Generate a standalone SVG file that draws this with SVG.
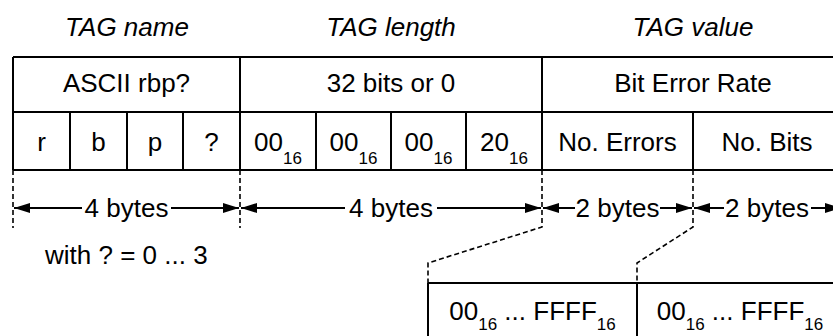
<svg xmlns="http://www.w3.org/2000/svg" width="833" height="336" viewBox="0 0 833 336">
<style>
text{font-family:"Liberation Sans",Arial,sans-serif;font-size:26px;fill:#000;text-anchor:middle}
.hd{font-style:italic}
.sub{font-size:17px}
.ln{stroke:#000;stroke-width:2;fill:none}
.dash{stroke:#000;stroke-width:1.6;fill:none;stroke-dasharray:5 3}
.arr{stroke:#000;stroke-width:2;fill:none}
</style>
<defs>
<marker id="ah" viewBox="0 0 16 10" refX="16" refY="5" markerWidth="16" markerHeight="10" markerUnits="userSpaceOnUse" orient="auto-start-reverse">
<path d="M0,0 L16,5 L0,10 Z" fill="#000"/>
</marker>
</defs>
<g id="headers">
<text class="hd" x="127" y="36">TAG name</text>
<text class="hd" x="391" y="36">TAG length</text>
<text class="hd" x="693" y="36">TAG value</text>
</g>
<g id="table">
<path class="ln" d="M13,57H833M13,112H833M13,170H833M13,57V170M240,57V170M542,57V170M70,112V170M127,112V170M183,112V170M316,112V170M391,112V170M466,112V170M693,112V170"/>
</g>
<g id="tag-name">
<text x="126.5" y="92">ASCII rbp?</text>
<text x="41.5" y="151">r</text>
<text x="98.5" y="151">b</text>
<text x="155" y="151">p</text>
<text x="211.5" y="151">?</text>
</g>
<g id="tag-length">
<text x="391" y="92">32 bits or 0</text>
<text x="278" y="151">00<tspan class="sub" dy="13">16</tspan></text>
<text x="353.5" y="151">00<tspan class="sub" dy="13">16</tspan></text>
<text x="428.5" y="151">00<tspan class="sub" dy="13">16</tspan></text>
<text x="504" y="151">20<tspan class="sub" dy="13">16</tspan></text>
</g>
<g id="tag-value">
<text x="693" y="92">Bit Error Rate</text>
<text x="617.5" y="151">No. Errors</text>
<text x="767" y="151">No. Bits</text>
</g>
<g id="connectors">
<path class="dash" d="M13,170V228M240,170V228M542,170V227L428,263V283M693,170V227L637,263V283"/>
<path class="arr" d="M82,208H14" marker-end="url(#ah)"/>
<path class="arr" d="M171,208H239" marker-end="url(#ah)"/>
<path class="arr" d="M345,208H241" marker-end="url(#ah)"/>
<path class="arr" d="M437,208H541" marker-end="url(#ah)"/>
<path class="arr" d="M575,208H543" marker-end="url(#ah)"/>
<path class="arr" d="M660,208H692" marker-end="url(#ah)"/>
<path class="arr" d="M724,208H694" marker-end="url(#ah)"/>
<path class="arr" d="M811,208H841" marker-end="url(#ah)"/>
</g>
<g id="dimensions">
<text x="126.5" y="217">4 bytes</text>
<text x="391" y="217">4 bytes</text>
<text x="617.5" y="217">2 bytes</text>
<text x="767" y="217">2 bytes</text>
<text x="45" y="264" style="text-anchor:start">with ? = 0 ... 3</text>
</g>
<g id="value-range">
<path class="ln" d="M428,283H833M428,283V336M637,283V336"/>
<text x="532.5" y="320">00<tspan class="sub" dy="10">16</tspan><tspan dy="-10"> ... FFFF</tspan><tspan class="sub" dy="10">16</tspan></text>
<text x="740" y="320">00<tspan class="sub" dy="10">16</tspan><tspan dy="-10"> ... FFFF</tspan><tspan class="sub" dy="10">16</tspan></text>
</g>
</svg>
